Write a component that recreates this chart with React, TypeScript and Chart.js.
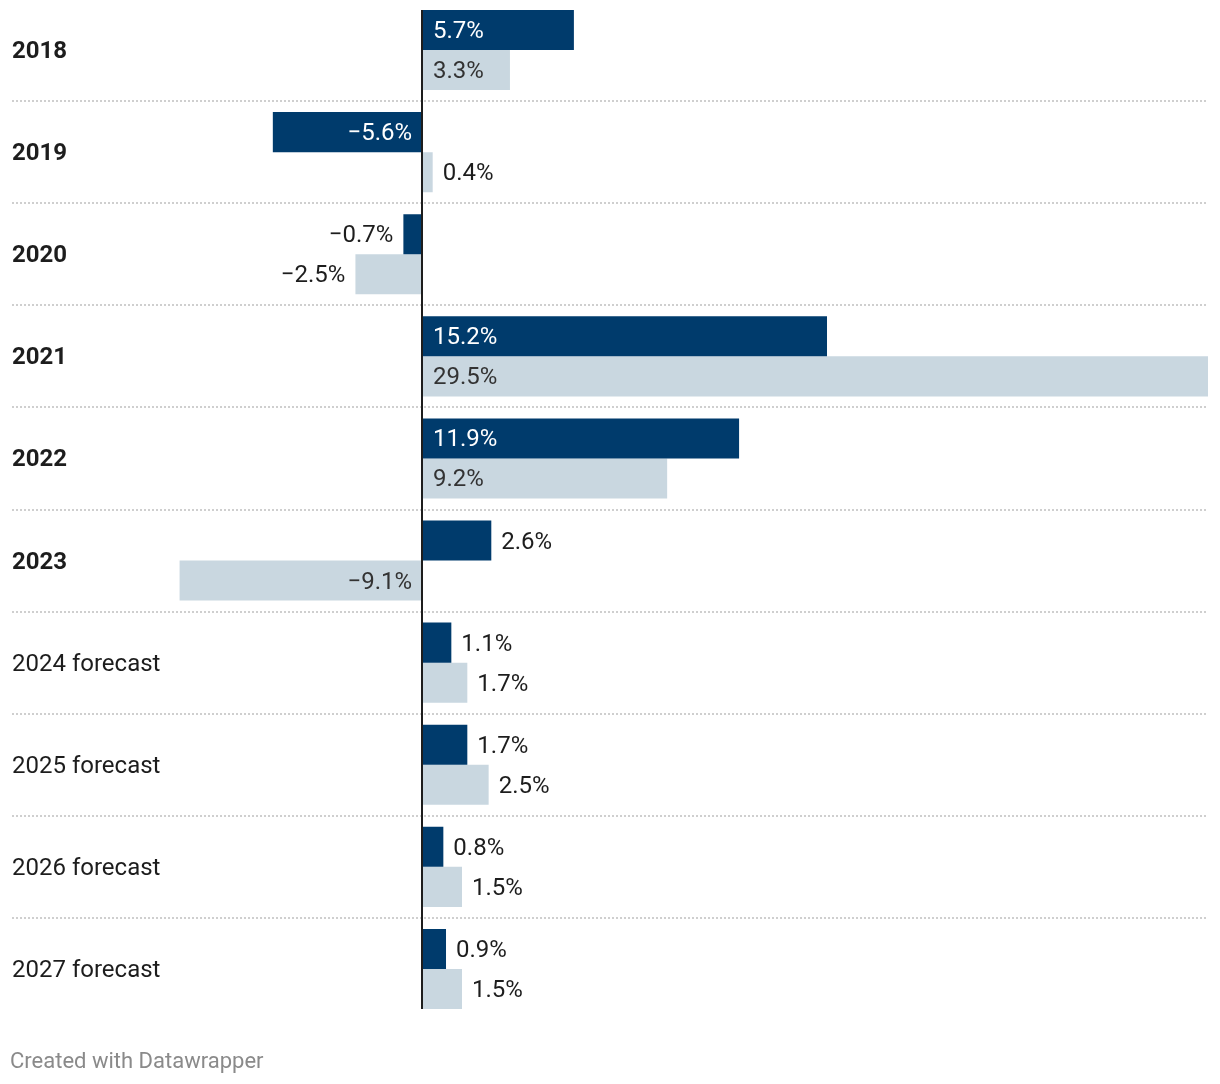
import React, { useEffect, useRef } from "react";
import { Chart, registerables } from "chart.js";

Chart.register(...registerables);

const categories = [
  "2018", "2019", "2020", "2021", "2022", "2023",
  "2024 forecast", "2025 forecast", "2026 forecast", "2027 forecast",
];
const boldCategories = [true, true, true, true, true, true, false, false, false, false];
const seriesA = [5.7, -5.6, -0.7, 15.2, 11.9, 2.6, 1.1, 1.7, 0.8, 0.9];
const seriesB = [3.3, 0.4, -2.5, 29.5, 9.2, -9.1, 1.7, 2.5, 1.5, 1.5];
const seriesNames = ["Series A", "Series B"];
const footerText = "Created with Datawrapper";

const DARK = "#003b6c";
const LIGHT = "#c9d7e0";
const FONT = "Roboto, 'Noto Sans', sans-serif";
const LABEL_SIZE = 24;

const fmt = (v: number) => (v < 0 ? "\u2212" : "") + Math.abs(v).toFixed(1) + "%";

const decorPlugin = {
  id: "decor",
  beforeDatasetsDraw(chart: any) {
    const { ctx, chartArea } = chart;
    const n = categories.length;
    const step = (chartArea.bottom - chartArea.top) / n;
    ctx.save();
    // separators
    ctx.strokeStyle = "#cfcfcf";
    ctx.lineWidth = 2;
    ctx.setLineDash([2, 2]);
    for (let i = 1; i < n; i++) {
      const y = Math.round(chartArea.top + step * i);
      ctx.beginPath();
      ctx.moveTo(12, y);
      ctx.lineTo(chartArea.right, y);
      ctx.stroke();
    }
    ctx.setLineDash([]);
    // category labels
    ctx.fillStyle = "#1d1d1d";
    ctx.textBaseline = "middle";
    ctx.textAlign = "left";
    for (let i = 0; i < n; i++) {
      const y = chartArea.top + step * (i + 0.5);
      ctx.font = (boldCategories[i] ? "bold " : "") + LABEL_SIZE + "px " + FONT;
      ctx.fillText(categories[i], 12, y + 2);
    }
    // footer
    ctx.font = "22px " + FONT;
    ctx.fillStyle = "#8a8a8a";
    ctx.fillText(footerText, 10, 1063);
    ctx.restore();
  },
  afterDatasetsDraw(chart: any) {
    const { ctx, chartArea } = chart;
    const xs = chart.scales.x;
    ctx.save();
    ctx.font = LABEL_SIZE + "px " + FONT;
    ctx.textBaseline = "middle";
    chart.data.datasets.forEach((ds: any, di: number) => {
      const meta = chart.getDatasetMeta(di);
      meta.data.forEach((el: any, i: number) => {
        const v = ds.data[i] as number;
        const text = fmt(v);
        const tw = ctx.measureText(text).width;
        const len = Math.abs(el.x - el.base);
        const inside = len >= tw + 22;
        const y = el.y + 2;
        if (v >= 0) {
          ctx.textAlign = "left";
          if (inside) {
            ctx.fillStyle = di === 0 ? "#ffffff" : "#333333";
            ctx.fillText(text, el.base + 11, y);
          } else {
            ctx.fillStyle = "#1d1d1d";
            ctx.fillText(text, el.x + 10, y);
          }
        } else {
          ctx.textAlign = "right";
          if (inside) {
            ctx.fillStyle = di === 0 ? "#ffffff" : "#333333";
            ctx.fillText(text, el.base - 10, y);
          } else {
            ctx.fillStyle = "#1d1d1d";
            ctx.fillText(text, el.x - 10, y);
          }
        }
      });
    });
    // zero line
    const x0 = Math.round(xs.getPixelForValue(0));
    ctx.strokeStyle = "#1d1d1d";
    ctx.lineWidth = 2;
    ctx.beginPath();
    ctx.moveTo(x0, chartArea.top + 11);
    ctx.lineTo(x0, chartArea.bottom - 11);
    ctx.stroke();
    ctx.restore();
  },
};

export default function App() {
  const ref = useRef<HTMLCanvasElement | null>(null);
  useEffect(() => {
    if (!ref.current) return;
    const chart = new Chart(ref.current, {
      type: "bar",
      data: {
        labels: categories,
        datasets: [
          { label: seriesNames[0], data: seriesA, backgroundColor: DARK },
          { label: seriesNames[1], data: seriesB, backgroundColor: LIGHT },
        ],
      },
      options: {
        indexAxis: "y",
        responsive: false,
        devicePixelRatio: 1,
        animation: false,
        categoryPercentage: 80 / 102,
        barPercentage: 1,
        layout: { padding: { left: 155.6, right: 12, top: 0, bottom: 64 } },
        scales: {
          x: { display: false, min: -10, max: 29.5 },
          y: { display: false },
        },
        plugins: {
          legend: { display: false },
          tooltip: { enabled: false },
        },
      } as any,
      plugins: [decorPlugin],
    });
    return () => chart.destroy();
  }, []);
  return (
    <div style={{ position: "absolute", left: 0, top: -1, width: 1220, height: 1085 }}>
      <canvas ref={ref} width={1220} height={1085} style={{ display: "block" }} />
    </div>
  );
}
